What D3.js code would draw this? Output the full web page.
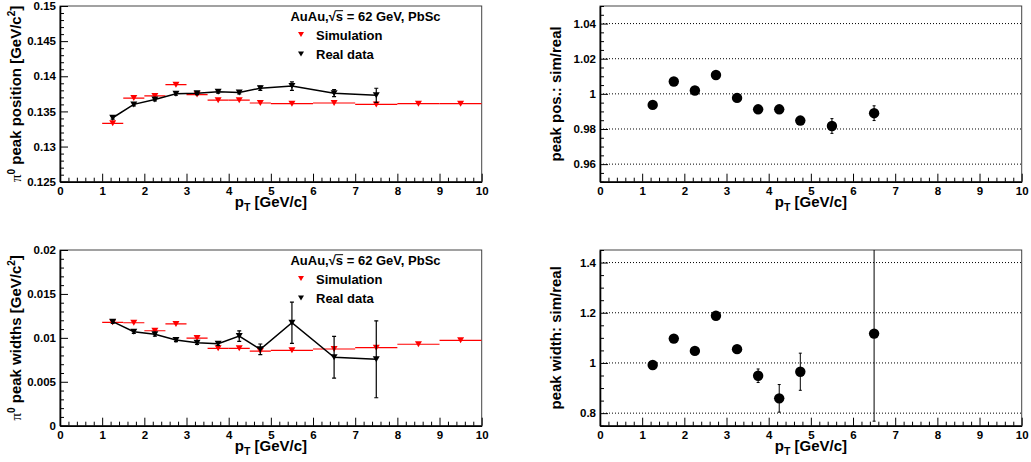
<!DOCTYPE html>
<html><head><meta charset="utf-8">
<script src="https://cdn.jsdelivr.net/npm/d3@7"></script>
<style>
body{margin:0;background:#fff}
svg{display:block}
text{font-family:"Liberation Sans",Arial,Helvetica,sans-serif;font-weight:bold;fill:#000}
</style></head>
<body>
<svg id="c" width="1031" height="462"></svg>
<script>
// ---------------- data ----------------
const ptReal      = [1.25,1.75,2.25,2.75,3.25,3.75,4.25,4.75,5.5,6.5,7.5];
const posReal     = [0.1341,0.1360,0.1367,0.1375,0.1376,0.1378,0.1377,0.1383,0.1386,0.1376,0.1373];
const posRealErr  = [0.0002,0.0002,0.0002,0.0002,0.0002,0.0002,0.0002,0.0003,0.0006,0.0005,0.0010];
const widthReal   = [0.01184,0.0107,0.0104,0.00976,0.00945,0.00933,0.0102,0.0087,0.01172,0.00779,0.00756];
const widthRealErr= [0.0002,0.0002,0.0002,0.0002,0.0002,0.0002,0.0006,0.0006,0.00235,0.00237,0.00438];

const ptSim       = [1.25,1.75,2.25,2.75,3.25,3.75,4.25,4.75,5.5,6.5,7.5,8.5,9.5];
const ptSimHalf   = [0.25,0.25,0.25,0.25,0.25,0.25,0.25,0.25,0.5,0.5,0.5,0.5,0.5];
const posSim      = [0.1333,0.1369,0.1372,0.1388,0.1374,0.1366,0.1366,0.1362,0.1361,0.1362,0.1360,0.1361,0.1361];
const widthSim    = [0.01177,0.01172,0.01081,0.01158,0.00998,0.00881,0.00881,0.0085,0.00858,0.00873,0.00888,0.00927,0.00972];

const ptPosRatio    = [1.25,1.75,2.25,2.75,3.25,3.75,4.25,4.75,5.5,6.5];
const posRatio      = [0.9937,1.0070,1.0019,1.0107,0.9977,0.9912,0.9912,0.9848,0.9817,0.9890];
const posRatioErr   = [0.001,0.001,0.001,0.001,0.001,0.001,0.001,0.0015,0.0042,0.0042];
const ptWidthRatio  = [1.25,1.75,2.25,2.75,3.25,3.75,4.25,4.75,6.5];
const widthRatio    = [0.992,1.097,1.048,1.188,1.055,0.949,0.859,0.965,1.117];
const widthRatioErr = [0.01,0.01,0.01,0.015,0.015,0.027,0.055,0.074,0.349];

const xTicks = [0,1,2,3,4,5,6,7,8,9,10];
const xTickLabels = ["0","1","2","3","4","5","6","7","8","9","10"];
const posTicks = [0.125,0.13,0.135,0.14,0.145,0.15];
const posTickLabels = ["0.125","0.13","0.135","0.14","0.145","0.15"];
const widthTicks = [0,0.005,0.01,0.015,0.02];
const widthTickLabels = ["0","0.005","0.01","0.015","0.02"];
const posRatioTicks = [0.96,0.98,1,1.02,1.04];
const posRatioTickLabels = ["0.96","0.98","1","1.02","1.04"];
const widthRatioTicks = [0.8,1,1.2,1.4];
const widthRatioTickLabels = ["0.8","1","1.2","1.4"];

const legendHeader = "AuAu,√s = 62 GeV, PbSc";
const legendLabels = ["Simulation","Real data"];
const RED = "#ff0000";

// ---------------- layout ----------------
const svg = d3.select("#c");
const panels = [
  {id:"A", x0:60,  x1:481.7,  y0:6,   y1:181.7, dom:[0.125,0.15], ticks:posTicks, labels:posTickLabels, minorStep:0.001,
   title:["π","0"," peak position [GeV/c","2","]"], titleX:21, grid:false},
  {id:"B", x0:60,  x1:481.7,  y0:250, y1:425.7, dom:[0,0.02], ticks:widthTicks, labels:widthTickLabels, minorStep:0.001,
   title:["π","0"," peak widths [GeV/c","2","]"], titleX:21, grid:false},
  {id:"C", x0:600, x1:1021.7, y0:6,   y1:181.7, dom:[0.95,1.05], ticks:posRatioTicks, labels:posRatioTickLabels, minorStep:0.005,
   title:"peak pos.: sim/real", titleX:561, grid:true},
  {id:"D", x0:600, x1:1021.7, y0:250, y1:425.7, dom:[0.75,1.45], ticks:widthRatioTicks, labels:widthRatioTickLabels, minorStep:0.05,
   title:"peak width: sim/real", titleX:561, grid:true}
];

panels.forEach(p=>{
  p.xs = d3.scaleLinear().domain([0,10]).range([p.x0,p.x1]);
  p.ys = d3.scaleLinear().domain(p.dom).range([p.y1,p.y0]);
  const g = svg.append("g");
  p.g = g;
  svg.append("clipPath").attr("id","clip"+p.id).append("rect")
     .attr("x",p.x0).attr("y",p.y0).attr("width",p.x1-p.x0).attr("height",p.y1-p.y0);
  if(p.grid){
    g.append("g").selectAll("line").data(p.ticks).join("line")
      .attr("x1",p.x0).attr("x2",p.x1).attr("y1",d=>p.ys(d)).attr("y2",d=>p.ys(d))
      .attr("stroke","#000").attr("stroke-width",1).attr("stroke-dasharray","1,2");
  }
  g.append("rect").attr("x",p.x0).attr("y",p.y0).attr("width",p.x1-p.x0).attr("height",p.y1-p.y0)
    .attr("fill","none").attr("stroke","#444").attr("stroke-width",1);
  const xMinor = d3.range(0,10.0001,0.2).filter(v=>Math.abs(v-Math.round(v))>1e-6);
  g.append("g").attr("transform",`translate(0,${p.y1})`)
    .call(d3.axisBottom(p.xs).tickValues(xMinor).tickSizeInner(-4).tickSizeOuter(0).tickFormat(""))
    .call(s=>s.select(".domain").remove()).call(s=>s.selectAll("line").attr("stroke-width",1));
  const xa = g.append("g").attr("transform",`translate(0,${p.y1})`)
    .call(d3.axisBottom(p.xs).tickValues(xTicks).tickSizeInner(-8).tickSizeOuter(0).tickPadding(4.8)
      .tickFormat((d,i)=>xTickLabels[i]));
  xa.select(".domain").attr("stroke-width",1.6);
  xa.selectAll("line").attr("stroke-width",1);
  xa.selectAll("text").style("font-size","11.5px").style("font-family",'"Liberation Sans",Arial,sans-serif').style("font-weight","bold");
  const [lo,hi] = p.dom;
  const yMinor = [];
  for(let v=lo; v<=hi+1e-9; v+=p.minorStep){
    const vv = +v.toFixed(6);
    if(!p.ticks.some(t=>Math.abs(t-vv)<1e-9)) yMinor.push(vv);
  }
  g.append("g").attr("transform",`translate(${p.x0},0)`)
    .call(d3.axisLeft(p.ys).tickValues(yMinor).tickSizeInner(-4).tickSizeOuter(0).tickFormat(""))
    .call(s=>s.select(".domain").remove()).call(s=>s.selectAll("line").attr("stroke-width",1));
  const ya = g.append("g").attr("transform",`translate(${p.x0},0)`)
    .call(d3.axisLeft(p.ys).tickValues(p.ticks).tickSizeInner(-8).tickSizeOuter(0).tickPadding(4)
      .tickFormat((d,i)=>p.labels[i]));
  ya.select(".domain").attr("stroke-width",1.6);
  ya.selectAll("line").attr("stroke-width",1);
  ya.selectAll("text").style("font-size","11.5px").style("font-family",'"Liberation Sans",Arial,sans-serif').style("font-weight","bold");

  const xt = svg.append("text").attr("x",(p.x0+p.x1)/2).attr("y",p.y1+25.5).attr("text-anchor","middle").style("font-size","15px");
  xt.append("tspan").text("p");
  xt.append("tspan").attr("dy",4).style("font-size","10.5px").text("T");
  xt.append("tspan").attr("dy",-4).text(" [GeV/c]");
  const yt = svg.append("text").attr("text-anchor","middle").style("font-size","15px")
     .attr("transform",`translate(${p.titleX},${(p.y0+p.y1)/2}) rotate(-90)`);
  if(Array.isArray(p.title)){
    yt.append("tspan").style("font-family",'"Liberation Serif",serif').style("font-weight","normal").style("font-size","15px").text(p.title[0]);
    yt.append("tspan").attr("dy",-6).style("font-size","10px").text(p.title[1]);
    yt.append("tspan").attr("dy",6).text(p.title[2]);
    yt.append("tspan").attr("dy",-6).style("font-size","10px").text(p.title[3]);
    yt.append("tspan").attr("dy",6).text(p.title[4]);
  } else {
    yt.text(p.title);
  }
});

function triPath(w,h){ return `M${-w/2},${-h/2}L${w/2},${-h/2}L0,${h/2}Z`; }

function drawLeft(p, sim, real, realErr){
  const d = p.g.append("g").attr("clip-path",`url(#clip${p.id})`);
  d.append("g").selectAll("line").data(ptSim).join("line")
    .attr("x1",(v,i)=>p.xs(v-ptSimHalf[i])).attr("x2",(v,i)=>p.xs(v+ptSimHalf[i]))
    .attr("y1",(v,i)=>p.ys(sim[i])).attr("y2",(v,i)=>p.ys(sim[i]))
    .attr("stroke",RED).attr("stroke-width",1.2);
  d.append("g").selectAll("path").data(ptSim).join("path")
    .attr("d",triPath(7,6)).attr("fill",RED)
    .attr("transform",(v,i)=>`translate(${p.xs(v)},${p.ys(sim[i])})`);
  const line = d3.line().x((v,i)=>p.xs(v)).y((v,i)=>p.ys(real[i]));
  d.append("path").datum(ptReal).attr("d",line).attr("fill","none").attr("stroke","#000").attr("stroke-width",1.5);
  const eb = d.append("g").selectAll("g").data(ptReal).join("g");
  eb.append("line").attr("x1",v=>p.xs(v)).attr("x2",v=>p.xs(v))
    .attr("y1",(v,i)=>p.ys(real[i]-realErr[i])).attr("y2",(v,i)=>p.ys(real[i]+realErr[i]))
    .attr("stroke","#000").attr("stroke-width",1.2);
  [-1,1].forEach(s=>{
    eb.append("line").attr("x1",v=>p.xs(v)-2).attr("x2",v=>p.xs(v)+2)
      .attr("y1",(v,i)=>p.ys(real[i]+s*realErr[i])).attr("y2",(v,i)=>p.ys(real[i]+s*realErr[i]))
      .attr("stroke","#000").attr("stroke-width",1.2);
  });
  d.append("g").selectAll("path").data(ptReal).join("path")
    .attr("d",triPath(7,6)).attr("fill","#000")
    .attr("transform",(v,i)=>`translate(${p.xs(v)},${p.ys(real[i])})`);
  const top = p.y0;
  const hdr = svg.append("text").attr("x",365.5).attr("y",top+14.5).attr("text-anchor","middle").style("font-size","13px").text(legendHeader);
  const idx = legendHeader.indexOf("√")+1;
  const ext = hdr.node().getExtentOfChar(idx);
  const ext0 = hdr.node().getExtentOfChar(idx-1);
  svg.append("line").attr("x1",ext0.x+ext0.width-0.5).attr("x2",ext.x+ext.width).attr("y1",ext.y+2.2).attr("y2",ext.y+2.2)
    .attr("stroke","#000").attr("stroke-width",1);
  const cols = [RED,"#000"];
  legendLabels.forEach((t,i)=>{
    const yy = top + 28.5 + i*19.5;
    svg.append("path").attr("d",triPath(6,5)).attr("fill",cols[i]).attr("transform",`translate(301,${yy})`);
    svg.append("text").attr("x",316).attr("y",yy+5).style("font-size","13px").text(t);
  });
}
drawLeft(panels[0], posSim, posReal, posRealErr);
drawLeft(panels[1], widthSim, widthReal, widthRealErr);

function drawRight(p, xs, vals, errs){
  const d = p.g.append("g").attr("clip-path",`url(#clip${p.id})`);
  const eb = d.append("g").selectAll("g").data(xs).join("g");
  eb.append("line").attr("x1",v=>p.xs(v)).attr("x2",v=>p.xs(v))
    .attr("y1",(v,i)=>p.ys(vals[i]-errs[i])).attr("y2",(v,i)=>p.ys(vals[i]+errs[i]))
    .attr("stroke","#000").attr("stroke-width",1);
  [-1,1].forEach(s=>{
    eb.append("line").attr("x1",v=>p.xs(v)-1.5).attr("x2",v=>p.xs(v)+1.5)
      .attr("y1",(v,i)=>p.ys(vals[i]+s*errs[i])).attr("y2",(v,i)=>p.ys(vals[i]+s*errs[i]))
      .attr("stroke","#000").attr("stroke-width",1);
  });
  d.append("g").selectAll("circle").data(xs).join("circle")
    .attr("cx",v=>p.xs(v)).attr("cy",(v,i)=>p.ys(vals[i])).attr("r",5.2).attr("fill","#000");
}
drawRight(panels[2], ptPosRatio, posRatio, posRatioErr);
drawRight(panels[3], ptWidthRatio, widthRatio, widthRatioErr);
</script>
</body></html>
